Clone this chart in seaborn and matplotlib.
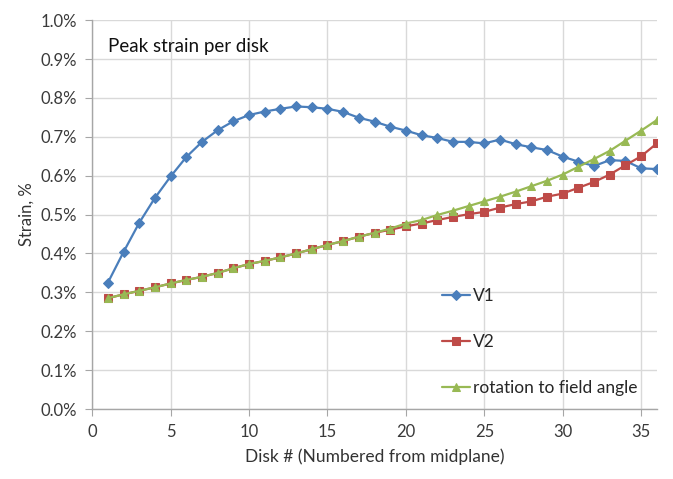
import numpy as np
import pandas as pd
import matplotlib
matplotlib.use("Agg")
import matplotlib.pyplot as plt
import seaborn as sns
from matplotlib.ticker import FuncFormatter, MultipleLocator

disks = list(range(1, 37))
v1 = [0.325, 0.404, 0.479, 0.543, 0.598, 0.648, 0.687, 0.717, 0.740, 0.756,
      0.765, 0.772, 0.778, 0.776, 0.772, 0.764, 0.749, 0.739, 0.726, 0.716,
      0.704, 0.697, 0.687, 0.687, 0.683, 0.693, 0.681, 0.673, 0.666, 0.649,
      0.636, 0.625, 0.640, 0.638, 0.619, 0.617]
v2 = [0.285, 0.295, 0.304, 0.313, 0.323, 0.332, 0.340, 0.350, 0.362, 0.373,
      0.381, 0.390, 0.400, 0.411, 0.422, 0.432, 0.443, 0.453, 0.461, 0.470,
      0.477, 0.486, 0.494, 0.501, 0.507, 0.518, 0.527, 0.534, 0.546, 0.554,
      0.569, 0.584, 0.603, 0.627, 0.650, 0.683]
rot = [0.285, 0.295, 0.304, 0.313, 0.323, 0.332, 0.340, 0.350, 0.362, 0.373,
       0.381, 0.390, 0.400, 0.411, 0.422, 0.432, 0.443, 0.453, 0.464, 0.477,
       0.486, 0.499, 0.510, 0.522, 0.534, 0.546, 0.559, 0.573, 0.587, 0.603,
       0.623, 0.643, 0.664, 0.690, 0.716, 0.743]
series_names = ["V1", "V2", "rotation to field angle"]
x_ticks = [0, 5, 10, 15, 20, 25, 30, 35]

df = pd.DataFrame({
    "disk": disks * 3,
    "strain": v1 + v2 + rot,
    "series": [series_names[0]] * 36 + [series_names[1]] * 36 + [series_names[2]] * 36,
})

sns.set_style("white")
plt.rcParams["font.family"] = ["Lato", "DejaVu Sans"]

fig = plt.figure(figsize=(6.73, 4.79), dpi=100)
ax = fig.add_axes([0.137, 0.146, 0.839, 0.812])

palette = {"V1": "#4A7EBB", "V2": "#BE4B48", "rotation to field angle": "#98B954"}
markers = {"V1": "D", "V2": "s", "rotation to field angle": "^"}
sizes_m = {"V1": 5, "V2": 6, "rotation to field angle": 6}

for name in series_names:
    sub = df[df["series"] == name]
    sns.lineplot(data=sub, x="disk", y="strain", ax=ax, color=palette[name],
                 marker=markers[name], markersize=sizes_m[name], linewidth=1.6,
                 markeredgecolor=palette[name], label=name)

ax.set_xlim(0, 36)
ax.set_ylim(0, 1.0)
ax.set_xticks(x_ticks)
ax.yaxis.set_major_locator(MultipleLocator(0.1))
ax.yaxis.set_major_formatter(FuncFormatter(lambda v, p: f"{v:.1f}%"))
ax.grid(True, color="#D9D9D9", linewidth=1.0)
ax.set_axisbelow(True)
for s in ["top", "right"]:
    ax.spines[s].set_visible(False)
for s in ["left", "bottom"]:
    ax.spines[s].set_color("#A6A6A6")
    ax.spines[s].set_linewidth(1.0)
ax.tick_params(axis="both", which="both", direction="out", length=5,
               color="#A6A6A6", labelsize=12, labelcolor="#3A3A3A", pad=6)
ax.tick_params(axis="both", bottom=True, left=True)

ax.set_xlabel("Disk # (Numbered from midplane)", fontsize=12.5, color="#333333", labelpad=6)
ax.set_ylabel("Strain, %", fontsize=12, color="#333333", labelpad=4)

ax.text(0.028, 0.955, "Peak strain per disk", transform=ax.transAxes,
        fontsize=13.5, color="#111111", va="top", ha="left")

leg = ax.legend(loc="upper left", bbox_to_anchor=(0.607, 0.33), frameon=False,
                fontsize=12.5, labelspacing=1.75, handlelength=1.6, handletextpad=0.2,
                borderaxespad=0)

fig.savefig("out.png", dpi=100)
